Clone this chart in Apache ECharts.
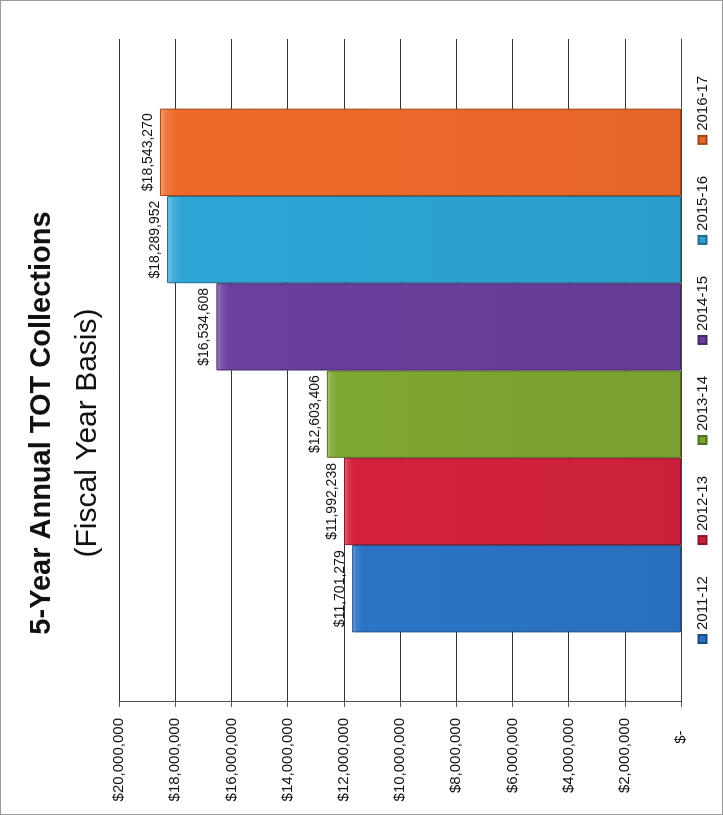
<!DOCTYPE html>
<html>
<head>
<meta charset="utf-8">
<script src="https://cdn.jsdelivr.net/npm/echarts@6/dist/echarts.min.js"></script>
<style>
  html, body { margin: 0; padding: 0; background: #fff; overflow: hidden; }
  #frame { position: absolute; left: 0; top: 0; width: 723px; height: 815px; box-sizing: border-box; border: 1px solid #9a9a9a; }
  #wrap { position: absolute; left: 0; top: 0; width: 815px; height: 723px;
          transform-origin: 0 0; transform: translateY(815px) rotate(-90deg); }
</style>
</head>
<body>
<div id="frame"></div>
<div id="wrap"></div>
<script>
// ---- data ----
const categories = ['2011-12', '2012-13', '2013-14', '2014-15', '2015-16', '2016-17'];
const values = [11701279, 11992238, 12603406, 16534608, 18289952, 18543270];
const colors = ['#2B74C6', '#D3213D', '#7FA733', '#6A3F9E', '#2DA5D5', '#EF6A2A'];
const tickValues = [0, 2000000, 4000000, 6000000, 8000000, 10000000, 12000000, 14000000, 16000000, 18000000, 20000000];
const titleLine1 = '5-Year Annual TOT Collections';
const titleLine2 = '(Fiscal Year Basis)';

const fmt = v => '$' + Number(v).toLocaleString('en-US');

function shade(hex, f) {
  const n = parseInt(hex.slice(1), 16);
  let r = (n >> 16) & 255, g = (n >> 8) & 255, b = n & 255;
  const adj = c => Math.max(0, Math.min(255, Math.round(f >= 0 ? c + (255 - c) * f : c * (1 + f))));
  return 'rgb(' + adj(r) + ',' + adj(g) + ',' + adj(b) + ')';
}

const chart = echarts.init(document.getElementById('wrap'), null, { renderer: 'canvas', width: 815, height: 723 });

const series = categories.map((name, i) => ({
  name: name,
  type: 'bar',
  data: [values[i]],
  barGap: '0%',
  barCategoryGap: '21%',
  itemStyle: {
    color: {
      type: 'linear', x: 0, y: 0, x2: 0, y2: 1,
      colorStops: [
        { offset: 0, color: shade(colors[i], 0.35) },
        { offset: 0.012, color: shade(colors[i], 0.1) },
        { offset: 0.03, color: colors[i] },
        { offset: 1, color: shade(colors[i], -0.04) }
      ]
    },
    borderColor: shade(colors[i], -0.35),
    borderWidth: 1
  },
  label: {
    show: true,
    position: 'top',
    distance: 5,
    formatter: p => fmt(p.value),
    fontFamily: 'Liberation Sans, Arial, sans-serif',
    fontSize: 14,
    color: '#111'
  }
}));

chart.setOption({
  animation: false,
  backgroundColor: 'transparent',
  graphic: [
    { type: 'text', x: 392, y: 42,
      style: { text: titleLine1, align: 'center', verticalAlign: 'middle',
               font: 'bold 29px "Liberation Sans", Arial, sans-serif', fill: '#111' } },
    { type: 'text', x: 382, y: 88,
      style: { text: titleLine2, align: 'center', verticalAlign: 'middle',
               font: '30px "Liberation Sans", Arial, sans-serif', fill: '#111' } }
  ],
  legend: {
    data: categories,
    left: 171,
    top: 695,
    padding: 0,
    itemGap: 31,
    itemWidth: 8,
    itemHeight: 8,
    icon: 'rect',
    textStyle: { fontFamily: 'Liberation Sans, Arial, sans-serif', fontSize: 15, color: '#111' }
  },
  grid: { left: 113, right: 39, top: 119, bottom: 42 },
  xAxis: {
    type: 'category',
    data: ['FY'],
    axisLine: { show: true, lineStyle: { color: '#444', width: 1 } },
    axisTick: { show: false },
    axisLabel: { show: false },
    splitLine: { show: false }
  },
  yAxis: {
    type: 'value',
    min: tickValues[0],
    max: tickValues[tickValues.length - 1],
    interval: tickValues[1] - tickValues[0],
    axisLine: { show: true, lineStyle: { color: '#555', width: 1 } },
    axisTick: { show: true, length: 5, lineStyle: { color: '#555' } },
    axisLabel: {
      margin: 16,
      fontFamily: 'Liberation Sans, Arial, sans-serif',
      fontSize: 15,
      color: '#111',
      formatter: v => (v === 0 ? '$-\u00a0\u00a0\u00a0' : fmt(v))
    },
    splitLine: { show: true, lineStyle: { color: '#333', width: 1 } }
  },
  series: series
});
</script>
</body>
</html>
